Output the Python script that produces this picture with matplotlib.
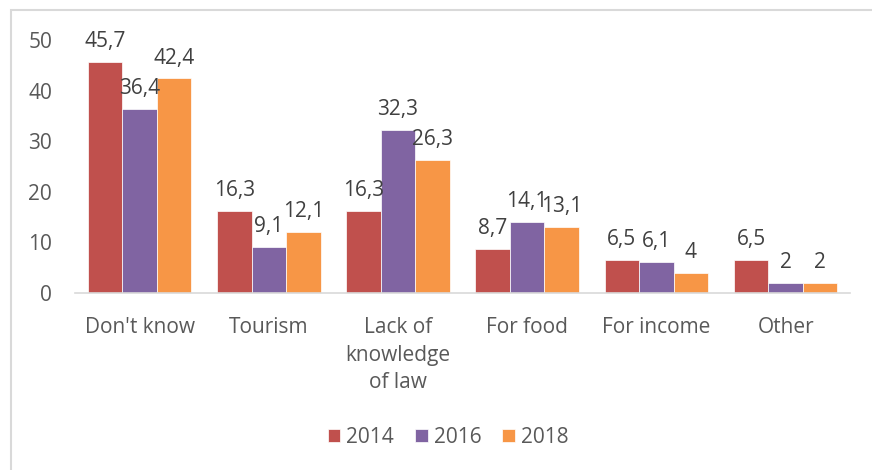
import matplotlib
matplotlib.use("Agg")
import matplotlib.pyplot as plt
import numpy as np
from matplotlib.patches import Rectangle

categories = ["Don't know", "Tourism", "Lack of\nknowledge\nof law", "For food", "For income", "Other"]
years = ["2014", "2016", "2018"]
values_2014 = [45.7, 16.3, 16.3, 8.7, 6.5, 6.5]
values_2016 = [36.4, 9.1, 32.3, 14.1, 6.1, 2]
values_2018 = [42.4, 12.1, 26.3, 13.1, 4, 2]
colors = ["#C0504D", "#8064A2", "#F79646"]

TEXT = "#595959"
FS = 15
plt.rcParams["font.family"] = ["Open Sans", "DejaVu Sans"]

fig = plt.figure(figsize=(8.72, 4.70), dpi=100)
ax = fig.add_axes([0.086, 0.3766, 0.889, 0.5384])

# outer chart border (cropped on right and bottom)
fig.add_artist(Rectangle((11 / 872, -0.05), 1.1, 1 - 10 / 470 + 0.05,
                         transform=fig.transFigure, fill=False,
                         edgecolor="#d9d9d9", linewidth=1.5))

x = np.arange(len(categories))
width = 0.267
series = [values_2014, values_2016, values_2018]
for i, (vals, col, yr) in enumerate(zip(series, colors, years)):
    bars = ax.bar(x + (i - 1) * width, vals, width, color=col, label=yr,
                  edgecolor="white", linewidth=0.5)
    for b, v in zip(bars, vals):
        txt = f"{v:g}".replace(".", ",")
        ax.annotate(txt, (b.get_x() + b.get_width() / 2, v),
                    xytext=(0, 7), textcoords="offset points",
                    ha="center", va="bottom", fontsize=FS, color="#404040")

ax.set_xlim(-0.5, len(categories) - 0.5)
ax.set_ylim(0, 50)
ax.set_yticks(range(0, 51, 10))
ax.set_xticks(x)
ax.set_xticklabels(categories, linespacing=1.4, va="top")
ax.tick_params(axis="both", length=0, labelsize=FS, labelcolor=TEXT)
ax.tick_params(axis="x", pad=17.5)
ax.tick_params(axis="y", pad=16.5)
for s in ["top", "right", "left"]:
    ax.spines[s].set_visible(False)
ax.spines["bottom"].set_color("#d9d9d9")
ax.spines["bottom"].set_linewidth(1.2)

leg = fig.legend(loc="center", bbox_to_anchor=(0.514, 0.07), ncol=3, frameon=False,
                 fontsize=FS, handlelength=0.6, handleheight=0.6,
                 handletextpad=0.3, columnspacing=1.0)
for t in leg.get_texts():
    t.set_color(TEXT)

fig.savefig("out.png", dpi=100)
